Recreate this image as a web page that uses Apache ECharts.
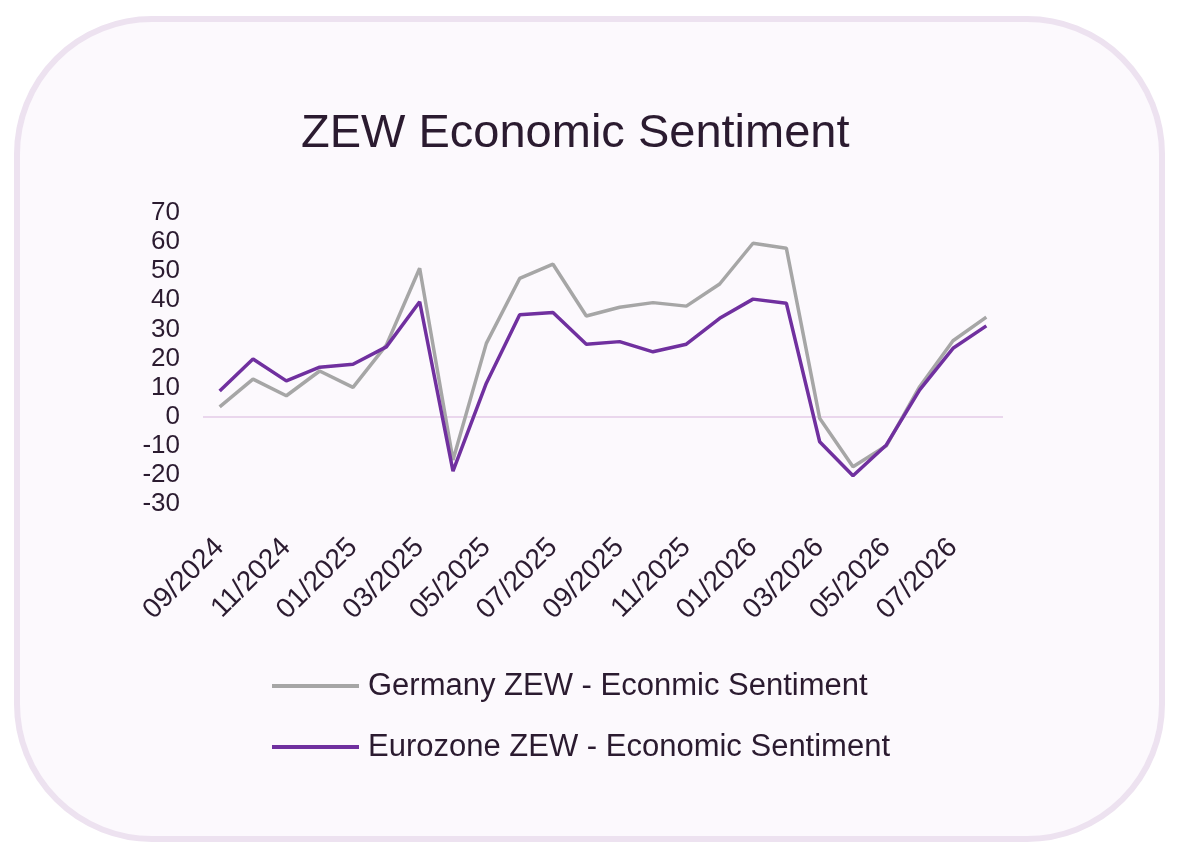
<!DOCTYPE html>
<html>
<head>
<meta charset="utf-8">
<title>ZEW Economic Sentiment</title>
<script src="https://cdn.jsdelivr.net/npm/echarts@6/dist/echarts.min.js"></script>
<style>
  html, body { margin: 0; padding: 0; background: #ffffff; }
  #zew_container { width: 1177px; height: 856px; }
</style>
</head>
<body>
<div id="zew_container"></div>
<script>
// months shown on the x axis
var months = ['09/2024','10/2024','11/2024','12/2024','01/2025','02/2025','03/2025','04/2025',
              '05/2025','06/2025','07/2025','08/2025','09/2025','10/2025','11/2025','12/2025',
              '01/2026','02/2026','03/2026','04/2026','05/2026','06/2026','07/2026','08/2026'];

// Germany ZEW - Econmic Sentiment
var germany = [3.4, 12.9, 7.2, 15.7, 10.1, 24.6, 51.0, -14.9, 25.2, 47.5, 52.4, 34.6,
               37.6, 39.2, 38.0, 45.6, 59.6, 57.9, -0.5, -17.2, -10.0, 10.3, 26.1, 34.2];

// Eurozone ZEW - Economic Sentiment
var eurozone = [8.8, 19.8, 12.3, 17.0, 18.0, 24.0, 39.5, -18.7, 11.5, 35.0, 35.8, 24.9,
                25.8, 22.3, 24.9, 33.8, 40.4, 39.0, -8.6, -20.3, -9.7, 9.2, 23.5, 31.2];

var seriesNames = ['Germany ZEW - Econmic Sentiment', 'Eurozone ZEW - Economic Sentiment'];

var yMin = -30, yMax = 70, yStep = 10;

var textColor = '#2b1b30';
var fontName = '"Liberation Sans", Arial, sans-serif';

function drawZewLine(){
    var dom = document.getElementById('zew_container');
    var myChart = echarts.init(dom, null, {renderer: 'canvas'});
    var option = {
        backgroundColor: '#ffffff',
        animation: false,
        // rounded card behind the chart
        graphic: [{
            type: 'rect',
            z: -10,
            silent: true,
            shape: {x: 17, y: 19, width: 1145, height: 820, r: 135},
            style: {fill: '#fcf9fd', stroke: '#ede2f0', lineWidth: 6}
        }],
        title: {
            text: 'ZEW Economic Sentiment',
            left: 296,
            top: 106,
            textStyle: {fontFamily: fontName, fontSize: 47, fontWeight: 'normal', color: textColor}
        },
        legend: {
            orient: 'vertical',
            left: 272,
            top: 668,
            padding: 0,
            icon: 'rect',
            itemWidth: 87,
            itemHeight: 4,
            itemGap: 25,
            data: seriesNames,
            textStyle: {fontFamily: fontName, fontSize: 31, color: textColor, lineHeight: 36, padding: [0, 0, 0, 4]}
        },
        grid: {left: 203, right: 174, top: 213, bottom: 352, containLabel: false},
        xAxis: {
            type: 'category',
            boundaryGap: true,
            data: months,
            axisLine: {show: false},
            axisTick: {show: false},
            axisLabel: {
                interval: 1,
                rotate: 45,
                margin: 39,
                fontFamily: fontName,
                fontSize: 28,
                color: textColor
            }
        },
        yAxis: {
            type: 'value',
            min: yMin,
            max: yMax,
            interval: yStep,
            axisLine: {show: false},
            axisTick: {show: false},
            splitLine: {show: false},
            axisLabel: {margin: 23, fontFamily: fontName, fontSize: 26, color: textColor}
        },
        series: [{
            name: seriesNames[0],
            type: 'line',
            data: germany,
            symbol: 'none',
            lineStyle: {color: '#a6a6a6', width: 3.5},
            itemStyle: {color: '#a6a6a6'},
            // zero line, kept under the two series
            markLine: {
                silent: true,
                z: 1,
                symbol: 'none',
                label: {show: false},
                lineStyle: {color: '#ead7ed', width: 2, type: 'solid'},
                data: [{yAxis: 0}]
            }
        }, {
            name: seriesNames[1],
            type: 'line',
            data: eurozone,
            symbol: 'none',
            lineStyle: {color: '#70309f', width: 3.5},
            itemStyle: {color: '#70309f'}
        }]
    };
    myChart.setOption(option, true);
}

drawZewLine();
</script>
</body>
</html>
